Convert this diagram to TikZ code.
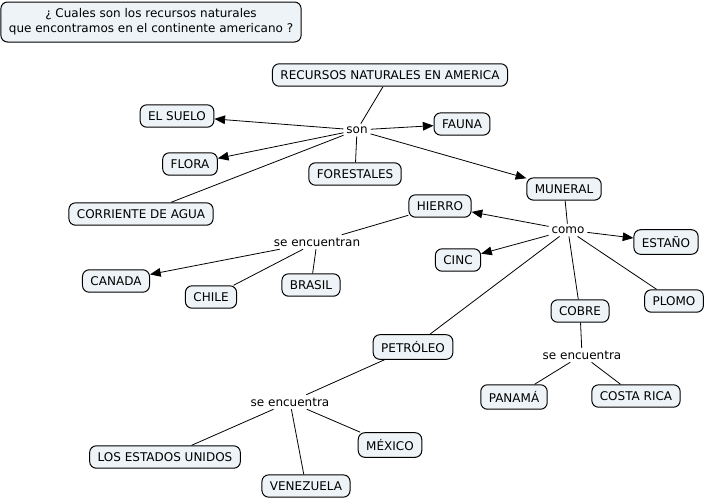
\documentclass[tikz,border=0pt]{standalone}
\usepackage{fontspec}
\setmainfont{DejaVu Sans}
\usetikzlibrary{arrows.meta}
\definecolor{boxfill}{HTML}{EDF3F6}
\tikzset{
  box/.style={draw=black, line width=0.75pt, fill=boxfill, rounded corners=5pt, inner xsep=6pt, inner ysep=5pt, font=\fontsize{9}{11}\selectfont},
  lbl/.style={inner sep=2pt, font=\fontsize{9}{11}\selectfont},
  conn/.style={line width=0.6pt},
  arr/.style={line width=0.6pt, -{Triangle[length=8pt,width=6.5pt]}}
}
\begin{document}
\begin{tikzpicture}[x=0.75pt,y=-0.75pt]
\useasboundingbox (0,0) rectangle (705,501);
\node[box, align=center, minimum width=297*0.75pt, minimum height=40*0.75pt] (q) at (151,22) {¿ Cuales son los recursos naturales\\que encontramos en el continente americano ?};
\node[box] (rec) at (390,75) {RECURSOS NATURALES EN AMERICA};
\node[lbl] (son) at (357,130) {son};
\node[box] (suelo) at (177,116) {EL SUELO};
\node[box] (fauna) at (462,124) {FAUNA};
\node[box] (flora) at (190,164) {FLORA};
\node[box] (forest) at (355,174) {FORESTALES};
\node[box] (agua) at (141,214) {CORRIENTE DE AGUA};
\node[box] (mun) at (564,189) {MUNERAL};
\node[box] (hierro) at (440,206) {HIERRO};
\node[lbl] (como) at (568,230) {como};
\node[box] (estano) at (666,242) {ESTAÑO};
\node[box] (cinc) at (458,260) {CINC};
\node[lbl] (sen) at (317,242) {se encuentran};
\node[box] (canada) at (116,281) {CANADA};
\node[box] (chile) at (211,297) {CHILE};
\node[box] (brasil) at (311,285) {BRASIL};
\node[box] (plomo) at (674,301) {PLOMO};
\node[box] (cobre) at (580,311) {COBRE};
\node[box] (petro) at (413,347) {PETRÓLEO};
\node[lbl] (se1) at (582,355) {se encuentra};
\node[box] (panama) at (514,397) {PANAMÁ};
\node[box] (costa) at (636,396) {COSTA RICA};
\node[lbl] (se2) at (290,402) {se encuentra};
\node[box] (eeuu) at (165,457) {LOS ESTADOS UNIDOS};
\node[box] (mexico) at (390,445) {MÉXICO};
\node[box] (vene) at (306,486) {VENEZUELA};

\draw[conn] (rec) -- (son);
\draw[arr] (son) -- (suelo);
\draw[arr] (son) -- (fauna);
\draw[arr] (son) -- (flora);
\draw[conn] (son) -- (forest);
\draw[conn] (son) -- (agua);
\draw[arr] (son) -- (mun);
\draw[conn] (mun) -- (como);
\draw[arr] (como) -- (hierro);
\draw[arr] (como) -- (estano);
\draw[arr] (como) -- (cinc);
\draw[conn] (como) -- (cobre);
\draw[conn] (como) -- (plomo);
\draw[conn] (como) -- (petro);
\draw[conn] (hierro) -- (sen);
\draw[arr] (sen) -- (canada);
\draw[conn] (sen) -- (chile);
\draw[conn] (sen) -- (brasil);
\draw[conn] (cobre) -- (se1);
\draw[conn] (se1) -- (panama);
\draw[conn] (se1) -- (costa);
\draw[conn] (petro) -- (se2);
\draw[conn] (se2) -- (eeuu);
\draw[conn] (se2) -- (vene);
\draw[conn] (se2) -- (mexico);
\end{tikzpicture}
\end{document}
